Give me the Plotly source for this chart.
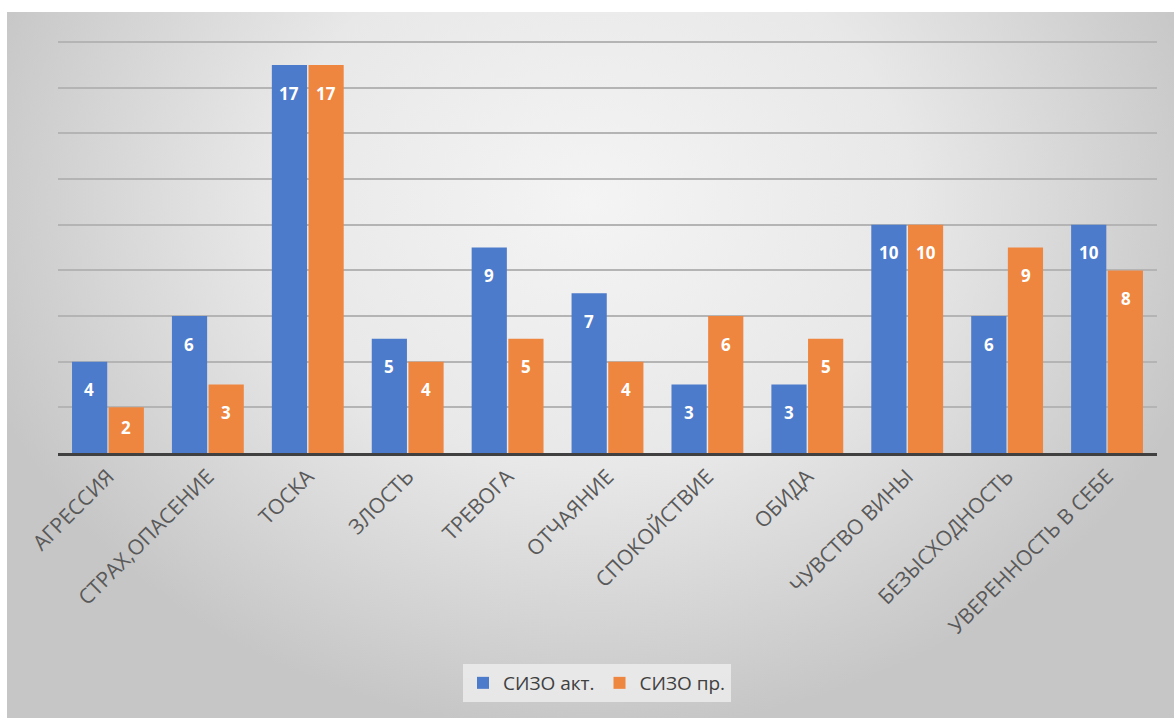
import plotly.graph_objects as go

categories = ["АГРЕССИЯ", "СТРАХ,ОПАСЕНИЕ", "ТОСКА", "ЗЛОСТЬ", "ТРЕВОГА", "ОТЧАЯНИЕ",
              "СПОКОЙСТВИЕ", "ОБИДА", "ЧУВСТВО ВИНЫ", "БЕЗЫСХОДНОСТЬ", "УВЕРЕННОСТЬ В СЕБЕ"]
series_names = ["СИЗО акт.", "СИЗО пр."]
sizo_akt = [4, 6, 17, 5, 9, 7, 3, 3, 10, 6, 10]
sizo_pr = [2, 3, 17, 4, 5, 4, 6, 5, 10, 9, 8]

BLUE = "#4d7bcb"
ORANGE = "#ee8640"
W, H = 1174, 718
FONT = "Open Sans"

fig = go.Figure()

# background gradient panel (drawn first, on its own subplot)
fig.add_trace(go.Scatter(
    x=[-0.05, 1.05, 1.05, -0.05, -0.05], y=[-0.02, -0.02, 1.48, 1.48, -0.02],
    mode="none", fill="toself",
    fillgradient=dict(type="radial",
                      colorscale=[[0, "#f4f4f4"], [0.5, "#e8e8e8"], [1, "#c6c6c6"]]),
    hoverinfo="skip", showlegend=False, xaxis="x", yaxis="y"))

fig.add_trace(go.Bar(name=series_names[0], x=categories, y=sizo_akt,
                     marker=dict(color=BLUE, line=dict(width=0)),
                     xaxis="x2", yaxis="y2", hoverinfo="x+y"))
fig.add_trace(go.Bar(name=series_names[1], x=categories, y=sizo_pr,
                     marker=dict(color=ORANGE, line=dict(width=0)),
                     xaxis="x2", yaxis="y2", hoverinfo="x+y"))

annotations = []
for vals, shift in ((sizo_akt, -18.5), (sizo_pr, 18.5)):
    for c, v in zip(categories, vals):
        annotations.append(dict(
            x=c, y=max(v - 1.23, v * 0.55), xref="x2", yref="y2",
            xshift=shift, text=str(v), showarrow=False,
            font=dict(family=FONT, size=17, color="white", weight="bold"),
            xanchor="center", yanchor="middle"))

fig.update_layout(
    width=W, height=H,
    margin=dict(l=0, r=0, t=0, b=0),
    paper_bgcolor="white",
    plot_bgcolor="rgba(0,0,0,0)",
    barmode="group", bargap=0.266, bargroupgap=0.04,
    font=dict(family=FONT, color="#595959"),
    xaxis=dict(domain=[7 / W, 1], range=[0, 1], visible=False, fixedrange=True),
    yaxis=dict(domain=[0, 706 / H], range=[0, 1], visible=False, fixedrange=True),
    xaxis2=dict(domain=[58 / W, 1157 / W], anchor="y2", tickangle=-45,
                automargin=False,
                showline=True, linecolor="#404040", linewidth=3,
                showgrid=False, ticks="",
                tickfont=dict(family=FONT, size=21, color="#595959")),
    yaxis2=dict(domain=[265 / H, 677 / H], anchor="x2", range=[0, 18.05],
                automargin=False,
                tickvals=[2, 4, 6, 8, 10, 12, 14, 16, 18],
                showticklabels=False, showgrid=True, gridcolor="#b4b4b4",
                gridwidth=2, zeroline=False, ticks=""),
    legend=dict(orientation="h", x=597 / W, xanchor="center", y=35 / H, yanchor="middle",
                bgcolor="rgba(236,236,236,0.85)", borderwidth=0,
                font=dict(family=FONT, size=19, color="#404040"),
                itemwidth=30, traceorder="normal"),
    annotations=annotations,
    showlegend=True,
)

fig.write_html("out.html", config={"displayModeBar": False},
               post_script="document.body.style.margin='0';document.body.style.overflow='hidden';")
